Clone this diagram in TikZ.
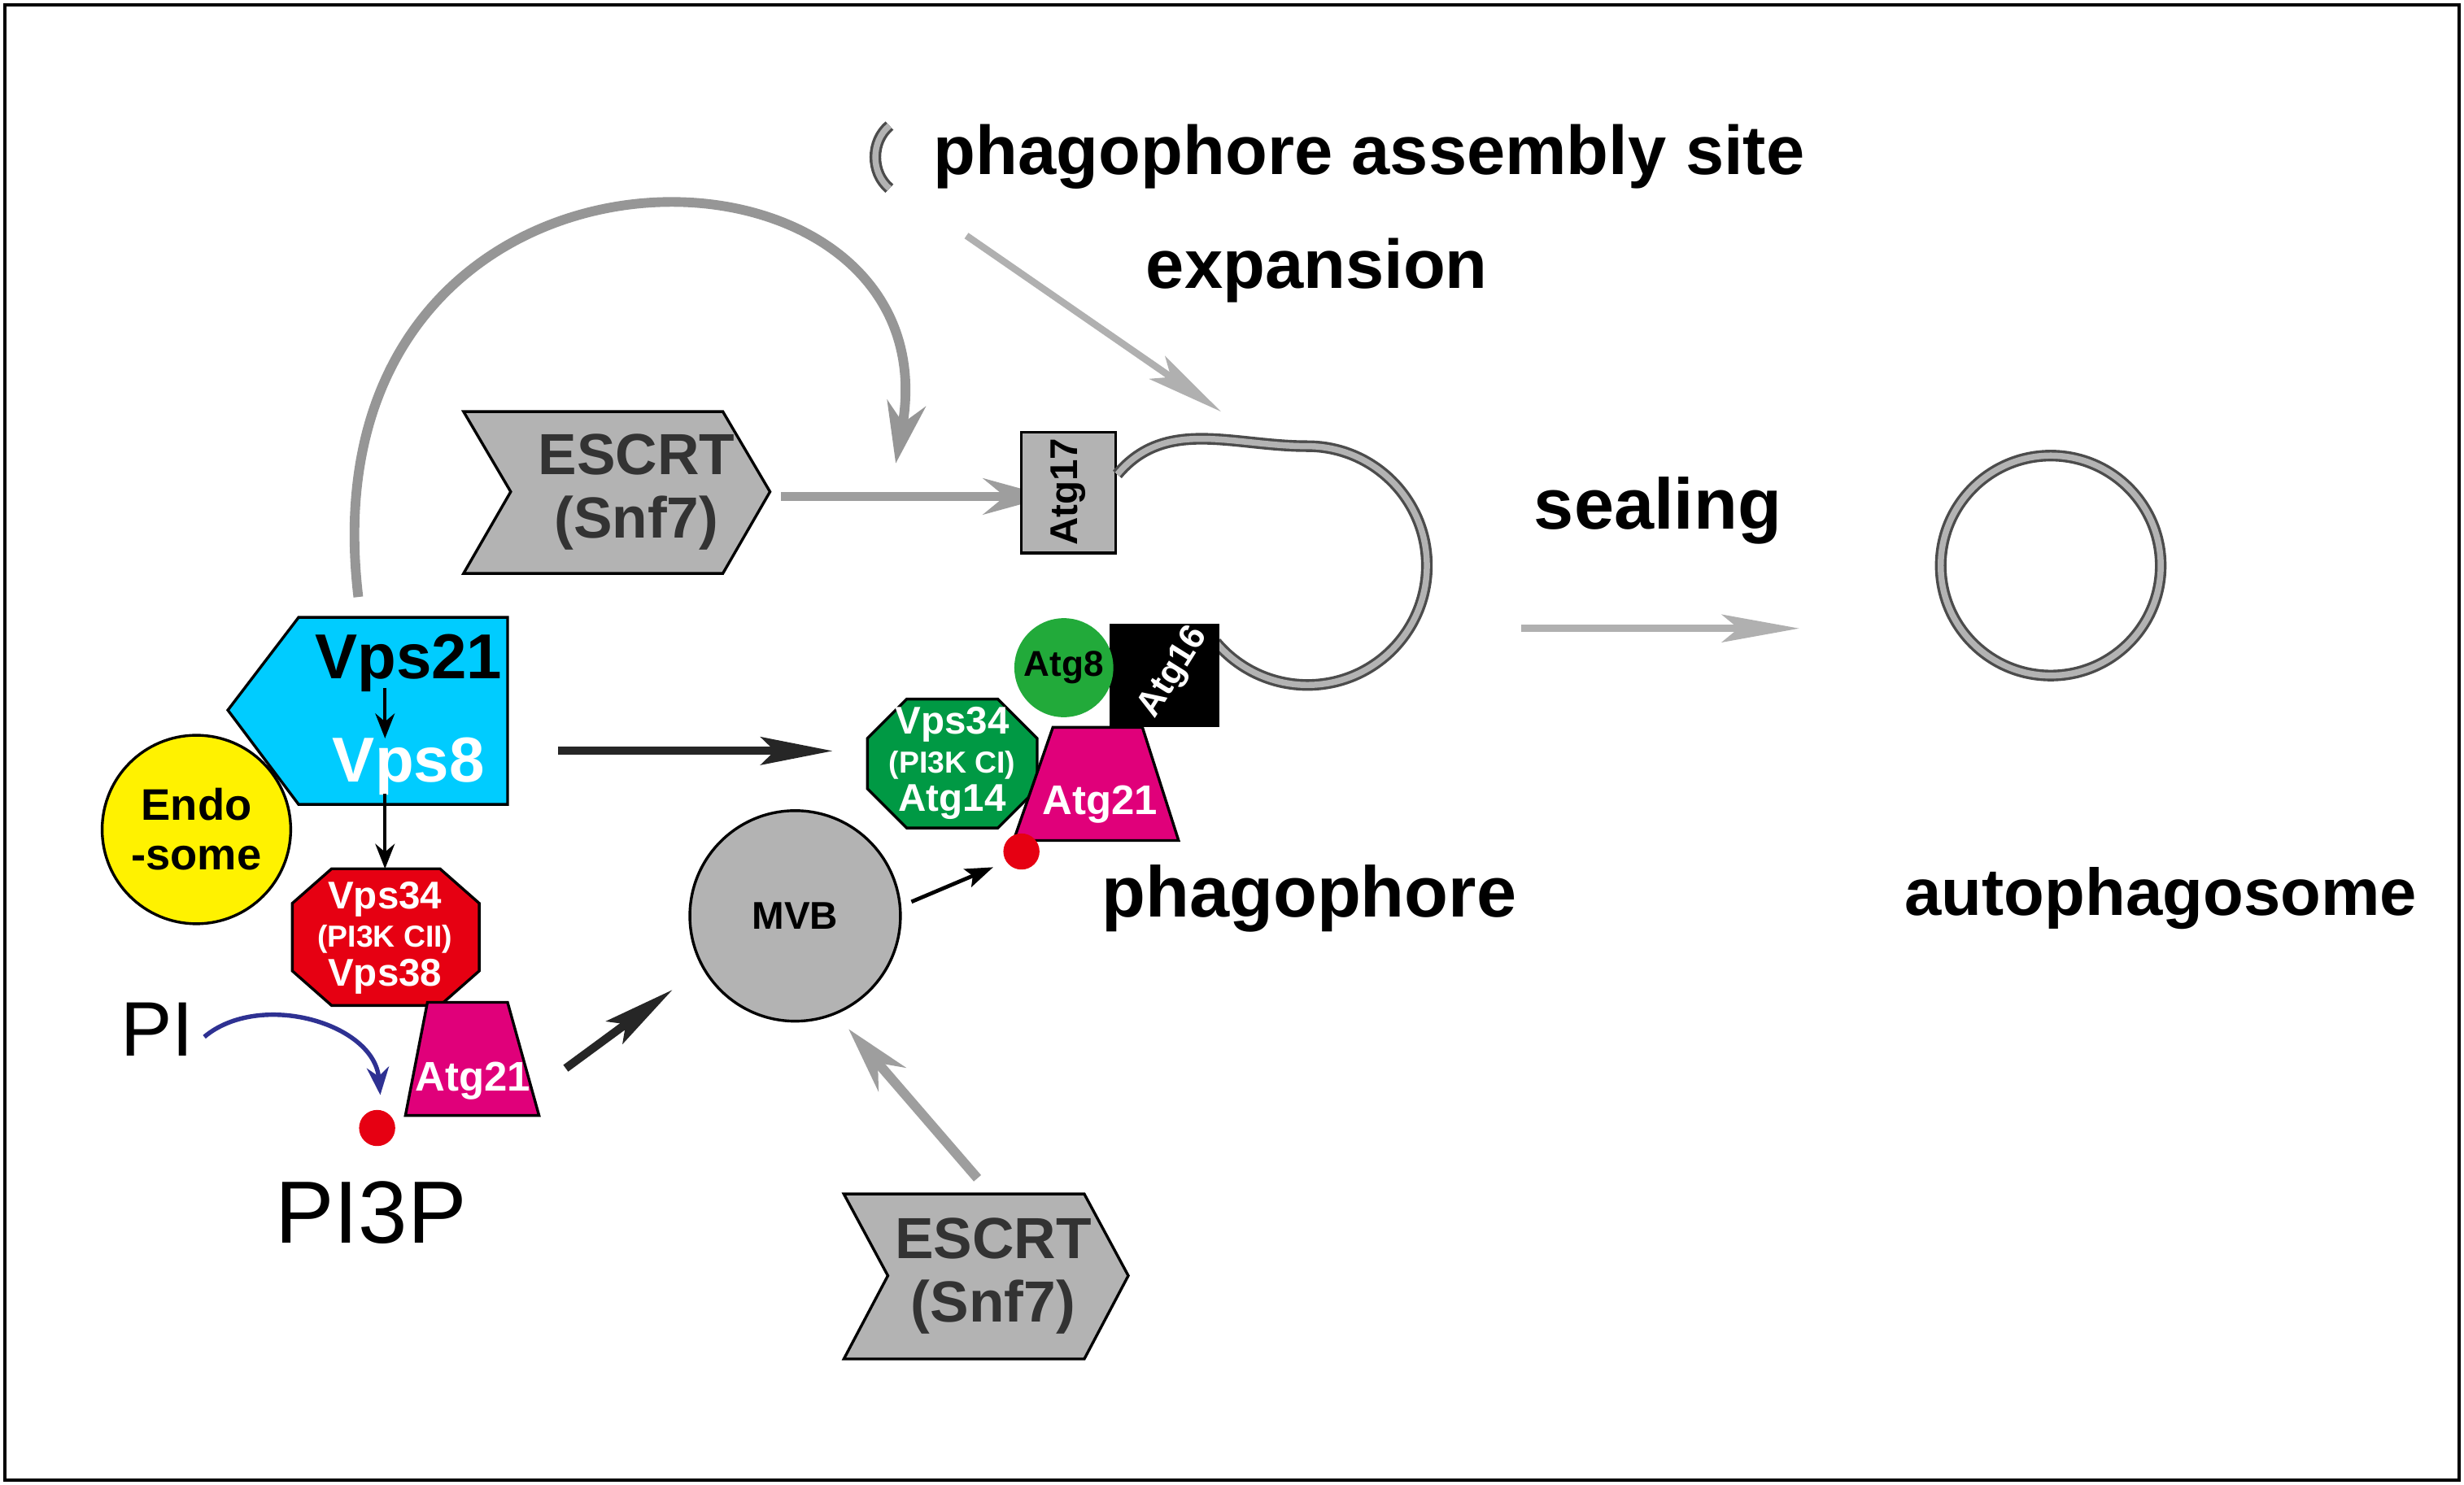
\documentclass[tikz,border=0pt]{standalone}
\usepackage{fontspec}
\setmainfont{Liberation Sans}
\usetikzlibrary{arrows.meta,calc}
\definecolor{cy}{HTML}{00CCFF}
\definecolor{gr}{HTML}{B3B3B3}
\definecolor{lg}{HTML}{B0B0B0}
\definecolor{mg}{HTML}{E0007A}
\definecolor{gn}{HTML}{009944}
\definecolor{gn2}{HTML}{22AA3A}
\definecolor{rd}{HTML}{E60012}
\definecolor{bl}{HTML}{2E3192}
\tikzset{
 fs/.style={font=\fontsize{#1}{#1}\selectfont\bfseries},
 ring/.style={draw=black!70,double=gr,line width=1pt,double distance=2.2pt},
 garrow/.style={draw=lg!90!black,line width=3.5pt,-{Stealth[length=24pt,width=13pt]}},
 thin gray/.style={draw=lg,line width=2.5pt,-{Stealth[length=28pt,width=10pt,inset=6pt]}},
 karrow/.style={draw=black!85,line width=3pt,-{Stealth[length=26pt,width=10pt,inset=5pt]}},
 shp/.style={draw=black,line width=1pt},
 wt/.style={text=white,font=\fontsize{15}{17}\selectfont\bfseries},
}
\begin{document}
\begin{tikzpicture}[x=0.2mm,y=0.2mm]
\useasboundingbox (0,0) rectangle (1568,-945);
\draw[line width=1.2pt] (3,-3) rectangle (1565,-942);
% PAS
\draw[ring] (566,-80) to[out=220,in=140] (566,-120);
\node[fs=25,anchor=west] (pas) at (588,-100) {phagophore assembly site};
\coordinate (e1) at (615,-150); \coordinate (e2) at (777,-262);
\draw[thin gray] (e1) -- (e2);
\node[fs=25] (exp) at (838,-172) {expansion};
% big curved arrow
\coordinate (c1) at (228,-380); \coordinate (c2) at (570,-295);
\draw[draw=lg!85!black,line width=3.5pt,-{Stealth[length=22pt,width=14pt]}] (c1) .. controls (190,-60) and (610,-70) .. (c2);
% ESCRT top
\draw[shp,fill=gr] (295,-262)--(460,-262)--(490,-313)--(460,-365)--(295,-365)--(325,-313)--cycle;
\node[align=center,font=\fontsize{21}{23}\selectfont\bfseries,text=black!80] (es1) at (405,-313) {ESCRT\\(Snf7)};
\coordinate (a1) at (497,-316); \coordinate (a2) at (668,-316);
\draw[garrow] (a1)--(a2);
% Atg17
\draw[shp,fill=gr] (650,-275) rectangle (710,-352);
\node[fs=14,rotate=90] (atg17) at (680,-313) {Atg17};
% phagophore ring
\coordinate (pc) at (832,-360);
\draw[ring] (711,-302) to[out=50,in=180] ($(pc)+(90:76)$) arc[start angle=90,end angle=-140,radius=76];
\node[fs=26] (ph) at (833,-572) {phagophore};
% sealing
\node[fs=26] (seal) at (1055,-325) {sealing};
\coordinate (s1) at (968,-400); \coordinate (s2) at (1145,-400);
\draw[thin gray] (s1)--(s2);
\draw[ring] (1305,-360) circle[radius=70];
\node[fs=24] (auto) at (1375,-572) {autophagosome};
% Vps21/Vps8
\draw[shp,fill=cy] (190,-393)--(323,-393)--(323,-512)--(190,-512)--(145,-452)--cycle;
\node[fs=23] (v21) at (260,-422) {Vps21};
\node[fs=23,text=white] (v8) at (260,-488) {Vps8};
\coordinate (v21b) at (245,-438); \coordinate (v8t) at (245,-470);
\draw[line width=1.3pt,-{Stealth[length=9pt,width=7pt]}] (v21b) -- (v8t);
% endosome
\node[shp,circle,fill=yellow,minimum size=24mm,align=center,font=\fontsize{16}{18}\selectfont\bfseries] (endo) at (125,-528) {Endo\\-some};
\coordinate (v8b) at (245,-505); \coordinate (octtop) at (245,-553);
\draw[line width=1.3pt,-{Stealth[length=9pt,width=7pt]}] (v8b)--(octtop);
% red octagon
\draw[shp,fill=rd] (211,-553)--(280,-553)--(305,-575)--(305,-618)--(280,-640)--(211,-640)--(186,-618)--(186,-575)--cycle;
\node[text=white,align=center,font=\fontsize{14}{15}\selectfont\bfseries] (oct1) at (245,-597) {Vps34\\[-1pt]{\fontsize{11}{13}\selectfont (PI3K CII)}\\[-1pt]Vps38};
% Atg21 left
\draw[shp,fill=mg] (258,-710)--(343,-710)--(323,-638)--(272,-638)--cycle;
\node[wt] (a21a) at (301,-688) {Atg21};
\node[font=\fontsize{28}{30}\selectfont] (pi) at (100,-655) {PI};
\node[font=\fontsize{32}{34}\selectfont] (pi3p) at (236,-772) {PI3P};
\node[circle,fill=rd,minimum size=4.6mm,inner sep=0] (dot1) at (240,-718) {};
\coordinate (b1) at (130,-660); \coordinate (b2) at (242,-697);
\draw[bl,line width=1.6pt,-{Stealth[length=10pt,width=8pt]}] (b1) to[out=40,in=95] (b2);
% MVB
\node[shp,circle,fill=gr,minimum size=26.8mm,font=\fontsize{14}{16}\selectfont\bfseries] (mvb) at (506,-583) {MVB};
\coordinate (k1) at (360,-680); \coordinate (k2) at (428,-630);
\draw[karrow] (k1)--(k2);
\coordinate (m1) at (580,-574); \coordinate (m2) at (632,-552);
\draw[line width=1.4pt,-{Stealth[length=10pt,width=7pt,inset=2pt]}] (m1)--(m2);
\coordinate (h1) at (355,-478); \coordinate (h2) at (530,-478);
\draw[karrow] (h1)--(h2);
% green octagon
\draw[shp,fill=gn] (577,-445)--(635,-445)--(660,-470)--(660,-502)--(635,-527)--(577,-527)--(552,-502)--(552,-470)--cycle;
\node[text=white,align=center,font=\fontsize{14}{15}\selectfont\bfseries] (oct2) at (606,-486) {Vps34\\[-1pt]{\fontsize{11}{13}\selectfont (PI3K CI)}\\[-1pt]Atg14};
% Atg16
\draw[shp,fill=black] (707,-398) rectangle (775,-462);
\node[text=white,rotate=58,inner sep=0pt,font=\fontsize{13}{15}\selectfont\bfseries] (a16) at (747,-428) {Atg16};
% Atg8
\node[circle,fill=gn2,minimum size=12.6mm,inner sep=0,font=\fontsize{13}{15}\selectfont\bfseries] (a8) at (677,-425) {Atg8};
% Atg21 right
\draw[shp,fill=mg] (645,-535)--(750,-535)--(727,-463)--(670,-463)--cycle;
\node[wt] (a21b) at (700,-512) {Atg21};
\node[circle,fill=rd,minimum size=4.6mm,inner sep=0] (dot2) at (650,-542) {};
% ESCRT bottom
\draw[shp,fill=gr] (537,-760)--(690,-760)--(718,-812)--(690,-865)--(537,-865)--(565,-812)--cycle;
\node[align=center,font=\fontsize{21}{23}\selectfont\bfseries,text=black!80] (es2) at (632,-812) {ESCRT\\(Snf7)};
\coordinate (g1) at (622,-750); \coordinate (g2) at (540,-655);
\draw[garrow] (g1)--(g2);
\end{tikzpicture}
\end{document}
